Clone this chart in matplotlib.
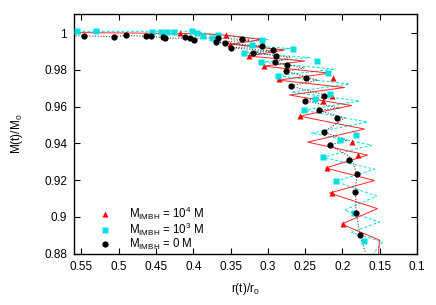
import numpy as np
import matplotlib
matplotlib.use('Agg')
import matplotlib.pyplot as plt
from matplotlib.ticker import FuncFormatter

plt.rcParams['font.family'] = ['Liberation Sans', 'DejaVu Sans']
plt.rcParams['mathtext.fontset'] = 'custom'
plt.rcParams['mathtext.rm'] = 'Liberation Sans'
plt.rcParams['mathtext.it'] = 'Liberation Sans'

# orbit tracks (r/r0, M/M0)
r_red = [0.5617, 0.4183, 0.3846, 0.3566, 0.3084, 0.3499, 0.2776, 0.3268, 0.2508, 0.3053, 0.2173,
         0.2856, 0.1972, 0.2709, 0.1878, 0.2575, 0.1704, 0.2467, 0.1664, 0.2226, 0.157, 0.2173,
         0.153, 0.2012, 0.1503, 0.152]
m_red = [1.0003, 0.9998, 0.9996, 0.9989, 0.9965, 0.994, 0.9908, 0.9875, 0.9848, 0.982, 0.9782,
         0.9744, 0.9704, 0.9663, 0.9606, 0.9548, 0.9478, 0.9407, 0.9336, 0.9266, 0.9198, 0.913,
         0.9045, 0.8961, 0.8874, 0.878]

r_cyan = [0.5617, 0.4022, 0.3846, 0.3674, 0.3004, 0.3486, 0.2709, 0.3321, 0.2441, 0.3088, 0.2106,
          0.2883, 0.1905, 0.2682, 0.1771, 0.2517, 0.1664, 0.2414, 0.161, 0.2262, 0.157, 0.2088,
          0.1543, 0.1972, 0.1503, 0.1878, 0.1463, 0.161]
m_cyan = [1.0009, 1.001, 1.0, 0.9989, 0.9965, 0.994, 0.9916, 0.9893, 0.9867, 0.9842, 0.9804,
          0.9768, 0.9723, 0.9679, 0.963, 0.958, 0.9516, 0.9456, 0.9391, 0.9324, 0.926, 0.9193,
          0.9113, 0.9037, 0.8972, 0.8917, 0.8863, 0.8787]

r_black = [0.5617, 0.546, 0.5063, 0.4897, 0.4562, 0.4374, 0.4049, 0.3674, 0.3245, 0.3691, 0.3084,
           0.3499, 0.291, 0.3201, 0.2709, 0.291, 0.2508, 0.2762, 0.2334, 0.2695, 0.2173, 0.2504,
           0.2039, 0.232, 0.1972, 0.2253, 0.1932, 0.2164, 0.1878, 0.1807, 0.1825, 0.1815, 0.1761, 0.169]
m_black = [0.9985, 0.9985, 0.998, 0.9987, 0.9982, 0.9973, 0.9971, 0.9974, 0.9962, 0.9949, 0.9929,
           0.992, 0.9902, 0.9893, 0.9869, 0.9841, 0.981, 0.9793, 0.9744, 0.9712, 0.9657, 0.9632,
           0.9592, 0.958, 0.9538, 0.9461, 0.9418, 0.9392, 0.932, 0.9233, 0.9133, 0.9022, 0.8899, 0.8803]

# snapshot markers
r_tri = [0.4183, 0.3566, 0.3503, 0.3254, 0.3053, 0.2856, 0.2133, 0.2146, 0.2262, 0.2575, 0.1869,
         0.1794, 0.2204, 0.2146, 0.1989]
m_tri = [0.9998, 0.9989, 0.994, 0.9875, 0.982, 0.975, 0.9755, 0.9657, 0.9632, 0.9548, 0.9407,
         0.9336, 0.9264, 0.9128, 0.8961]

r_sq = [0.5554, 0.5304, 0.4554, 0.4433, 0.4348, 0.4254, 0.4013, 0.3946, 0.3871, 0.375, 0.367,
        0.3321, 0.3209, 0.3075, 0.3088, 0.2866, 0.2665, 0.2338, 0.2374, 0.2196, 0.2169, 0.2517,
        0.2039, 0.1821, 0.2262, 0.2088, 0.1847, 0.1713]
m_sq = [1.0009, 1.0009, 1.0007, 1.0004, 1.0005, 1.0007, 1.0011, 0.9998, 0.9985, 0.9971, 0.9989,
        0.9893, 0.9935, 0.9962, 0.9842, 0.9768, 0.9911, 0.9846, 0.9643, 0.9782, 0.9668, 0.958,
        0.9418, 0.9445, 0.9324, 0.9193, 0.9022, 0.887]

r_dot = [0.546, 0.5063, 0.4897, 0.4629, 0.4562, 0.4407, 0.4374, 0.4106, 0.4049, 0.3986, 0.3691,
         0.3674, 0.358, 0.3499, 0.3348, 0.3201, 0.3075, 0.2933, 0.2887, 0.291, 0.2745, 0.2762,
         0.2494, 0.2695, 0.2249, 0.2504, 0.232, 0.2075, 0.2253, 0.2164, 0.1909, 0.1807, 0.1825,
         0.1815, 0.1761]
m_dot = [0.9985, 0.998, 0.9987, 0.9984, 0.9982, 0.9978, 0.9973, 0.9978, 0.9971, 0.9964, 0.9949,
         0.9974, 0.9947, 0.992, 0.9967, 0.9893, 0.9929, 0.9908, 0.9873, 0.9841, 0.9828, 0.9793,
         0.9755, 0.9712, 0.9659, 0.9632, 0.958, 0.9538, 0.9461, 0.9392, 0.9311, 0.9233, 0.9133,
         0.9022, 0.8899]

labels = [r'M$_{\mathrm{IMBH}}$ = 10$^4$ M', r'M$_{\mathrm{IMBH}}$ = 10$^3$ M',
          r'M$_{\mathrm{IMBH}}$ = 0 M']

red = '#ff0000'
cyan = '#00e0e0'

fig = plt.figure(figsize=(4.36, 3.05), dpi=100)
ax = fig.add_axes([0.1697, 0.1682, 0.7867, 0.7848])

ax.plot(r_cyan, m_cyan, color=cyan, lw=0.7, ls=(0, (3, 2)), zorder=2)
ax.plot(r_red, m_red, color=red, lw=0.7, zorder=3, alpha=0.85)
ax.plot(r_black, m_black, color='#444444', lw=0.8, ls=(0, (1, 1.5)), zorder=4)

ax.plot(r_tri, m_tri, ls='none', marker='^', ms=4, color=red, mec='none', label=labels[0], zorder=5)
ax.plot(r_sq, m_sq, ls='none', marker='s', ms=4.5, color=cyan, mec='none', label=labels[1], zorder=5)
ax.plot(r_dot, m_dot, ls='none', marker='o', ms=4.5, color='black', mec='none', label=labels[2], zorder=6)

ax.set_xlim(0.56, 0.1)
ax.set_ylim(0.88, 1.0102)
ax.set_xticks(np.arange(0.1, 0.56, 0.05))
ax.set_yticks(np.arange(0.88, 1.001, 0.02))
ax.xaxis.set_major_formatter(FuncFormatter(lambda v, p: '%g' % round(v, 2)))
ax.yaxis.set_major_formatter(FuncFormatter(lambda v, p: '%g' % round(v, 2)))
ax.tick_params(direction='in', top=True, right=True, length=4, width=0.8, labelsize=8.5, pad=5)
for s in ax.spines.values():
    s.set_linewidth(1)

ax.set_xlabel(r'r(t)/r$_0$', fontsize=8.5, labelpad=6)
ax.set_ylabel(r'M(t)/M$_0$', fontsize=8.5, labelpad=14)

ax.legend(loc='lower left', bbox_to_anchor=(0.06, -0.012), frameon=False, fontsize=8.3,
          handlelength=1.0, handletextpad=1.6, labelspacing=-0.1, borderaxespad=0)

fig.savefig('out.png', dpi=100)
